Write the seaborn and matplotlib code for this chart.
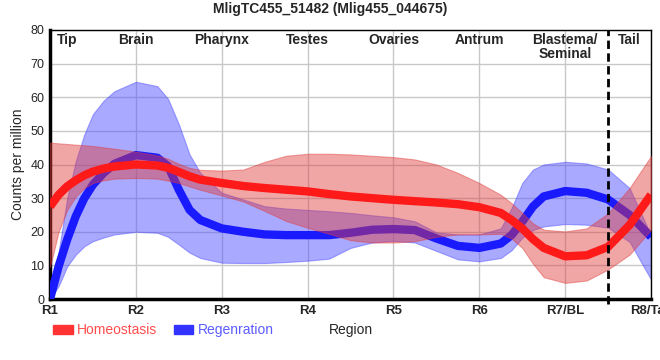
import matplotlib
matplotlib.use("Agg")
import matplotlib.pyplot as plt
from matplotlib.patches import Patch
import pandas as pd
import seaborn as sns

# region positions (1 = R1 ... 8 = R8/Tail)
pos = [1.0, 1.1, 1.2, 1.3, 1.4, 1.5, 1.625, 1.75, 2.0, 2.25, 2.375, 2.5, 2.625, 2.75,
       3.0, 3.25, 3.5, 3.75, 4.0, 4.25, 4.5, 4.75, 5.0, 5.25, 5.5, 5.75, 6.0, 6.25,
       6.375, 6.5, 6.625, 6.75, 7.0, 7.25, 7.5, 7.75, 8.0]

homeo = [27.5, 31.0, 33.5, 35.3, 36.8, 37.9, 38.8, 39.4, 40.0, 39.7, 39.0, 37.8, 36.5, 35.5,
         34.5, 33.6, 33.0, 32.5, 32.0, 31.2, 30.5, 30.0, 29.5, 29.1, 28.7, 28.2, 27.3, 25.6,
         23.5, 21.0, 17.8, 15.2, 12.7, 13.0, 15.5, 22.0, 31.0]
homeo_hi = [46.5, 46.3, 46.1, 45.9, 45.7, 45.5, 45.1, 44.7, 43.8, 42.7, 41.7, 40.2, 39.0, 38.4,
            38.2, 38.5, 40.8, 42.6, 43.2, 43.2, 43.0, 42.6, 42.2, 41.5, 40.0, 37.5, 34.5, 31.0,
            28.5, 25.6, 22.5, 20.6, 20.1, 21.0, 25.5, 33.0, 42.5]
homeo_lo = [9.5, 20.0, 26.5, 30.5, 33.0, 34.5, 35.3, 35.8, 36.0, 35.8, 35.2, 34.5, 33.5, 32.5,
            30.8, 29.0, 26.2, 23.2, 21.2, 19.4, 17.5, 16.8, 16.8, 17.2, 18.5, 19.2, 19.2, 19.4,
            18.0, 15.2, 10.5, 6.5, 4.8, 5.5, 8.8, 13.2, 20.6]

regen = [0.0, 9.7, 17.7, 24.6, 30.0, 34.0, 37.5, 40.2, 42.8, 42.0, 39.5, 32.5, 26.5, 23.5,
         21.0, 20.0, 19.2, 19.0, 19.0, 19.0, 19.7, 20.6, 20.8, 20.5, 18.0, 15.8, 15.2, 16.5,
         19.0, 23.0, 27.5, 30.5, 32.1, 31.6, 29.6, 25.0, 18.5]
regen_hi = [0.0, 14.0, 30.0, 41.0, 49.0, 55.0, 59.0, 61.8, 64.6, 63.3, 59.5, 52.0, 43.0, 37.5,
            31.6, 29.6, 27.6, 26.9, 26.5, 26.1, 25.6, 24.9, 24.3, 23.1, 19.8, 19.2, 19.2, 21.0,
            27.0, 34.5, 38.5, 40.0, 40.8, 40.3, 38.5, 33.0, 19.0]
regen_lo = [0.0, 3.8, 9.7, 13.2, 15.7, 17.2, 18.3, 19.2, 20.0, 19.7, 18.5, 16.2, 13.8, 12.2,
            10.8, 10.7, 10.7, 11.0, 11.4, 12.0, 15.2, 16.8, 17.3, 16.8, 14.3, 11.8, 11.2, 12.2,
            14.5, 18.2, 20.5, 21.6, 22.3, 22.1, 21.2, 17.0, 5.8]

tick_labels = ["R1", "R2", "R3", "R4", "R5", "R6", "R7/BL", "R8/Tail"]
organs = ["Tip", "Brain", "Pharynx", "Testes", "Ovaries", "Antrum", "Blastema/\nSeminal", "Tail"]
organ_pos = [1.2, 2.0, 3.0, 4.0, 5.0, 6.0, 7.0, 7.75]

df_h = pd.DataFrame({"pos": pos, "cpm": homeo})
df_r = pd.DataFrame({"pos": pos, "cpm": regen})

sns.set_style("whitegrid")
plt.rcParams["font.family"] = ["Liberation Sans", "DejaVu Sans"]

red = "#ff1a1a"
blue = "#1a1aff"

fig = plt.figure(figsize=(6.6, 3.6), dpi=100)
ax = fig.add_axes([0.0758, 0.1694, 0.9106, 0.7473])

ax.fill_between(pos, regen_lo, regen_hi, color="#4d4dff", alpha=0.48, lw=0.8, zorder=2)
sns.lineplot(df_r, x="pos", y="cpm", color=blue, lw=6, ax=ax, zorder=3,
             solid_joinstyle="round", solid_capstyle="butt")
ax.fill_between(pos, homeo_lo, homeo_hi, color="#e03a3a", alpha=0.45, lw=0.8, zorder=4)
sns.lineplot(df_h, x="pos", y="cpm", color=red, lw=6, ax=ax, zorder=5,
             solid_joinstyle="round", solid_capstyle="butt")

ax.axvline(7.5, ymin=-0.02, ymax=1, color="black", ls=(0, (3, 1.6)), lw=2, clip_on=False, zorder=6)

ax.set_xlim(1, 8)
ax.set_ylim(0, 80)
ax.set_xticks(range(1, 9))
ax.set_xticklabels(tick_labels, fontsize=9.5, fontweight="bold")
ax.set_yticks(range(0, 81, 10))
ax.tick_params(axis="y", labelsize=9, length=3, pad=1, color="black")
ax.tick_params(axis="x", length=0, pad=4)
ax.grid(color="#c8c8c8", lw=1)

for s in ["left", "bottom"]:
    ax.spines[s].set_linewidth(2.5)
    ax.spines[s].set_color("black")
for s in ["top", "right"]:
    ax.spines[s].set_linewidth(1)
    ax.spines[s].set_color("black")

for name, x in zip(organs, organ_pos):
    ax.text(x, 79, name, ha="center", va="top", fontsize=10, fontweight="bold",
            linespacing=1.0, zorder=7)

ax.set_xlabel("")
ax.set_ylabel("Counts per million", fontsize=10, labelpad=4)
fig.text(0.531, 0.083, "Region", ha="center", va="center", fontsize=10)
fig.text(0.5, 0.975, "MligTC455_51482 (Mlig455_044675)", ha="center", va="center",
         fontsize=10, fontweight="bold")

handles = [Patch(color="#ff3333"), Patch(color="#3333ff")]
leg = fig.legend(handles, ["Homeostasis", "Regenration"], loc="center left",
                 bbox_to_anchor=(0.062, 0.083), ncol=2, frameon=False, fontsize=10,
                 handlelength=1.4, handleheight=0.6, handletextpad=0.3, columnspacing=1.2)
for t, c in zip(leg.get_texts(), ["#ff4d4d", "#5c5cff"]):
    t.set_color(c)

fig.savefig("out.png", dpi=100)
